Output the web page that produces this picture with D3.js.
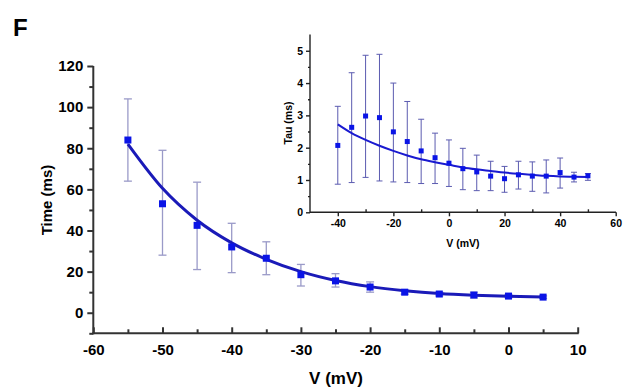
<!DOCTYPE html>
<html><head><meta charset="utf-8">
<script src="https://cdn.jsdelivr.net/npm/d3@7"></script>
<style>
body{margin:0;background:#fff;}
text{font-family:"Liberation Sans",Arial,sans-serif;font-weight:bold;fill:#000;}
</style></head>
<body><svg id="c" width="630" height="392"></svg>
<script>
// ---- Main panel data ----
const mainV = [-55,-50,-45,-40,-35,-30,-25,-20,-15,-10,-5,0,5];
const mainTime = [84,53,42.5,32,26.5,18.5,15.5,12.5,10,9.1,8.6,8.1,7.6];
const mainLow = [64,28,21,19.5,18.5,13,12.5,10,9,8.2,7.2,7.3,7.0];
const mainHigh = [104,79,63.5,43.5,34.5,23.5,19,15,11,10,10,8.9,8.2];
const mainFitV = [-55,-50,-45,-40,-35,-30,-25,-20,-15,-10,-5,0,5];
const mainFit = [82,60.5,45,34,26,20,15.7,12.7,10.7,9.3,8.5,8.0,7.7];
const mainXTicks = [-60,-50,-40,-30,-20,-10,0,10];
const mainYTicks = [0,20,40,60,80,100,120];

// ---- Inset data ----
const insetV = [-40,-35,-30,-25,-20,-15,-10,-5,0,5,10,15,20,25,30,35,40,45,50];
const insetTau = [2.07,2.63,2.98,2.93,2.49,2.19,1.9,1.69,1.52,1.35,1.25,1.12,1.04,1.16,1.12,1.12,1.23,1.09,1.13];
const insetLow = [0.87,0.92,1.08,0.97,0.94,0.92,0.89,0.89,0.8,0.7,0.67,0.67,0.62,0.72,0.65,0.6,0.75,0.94,0.99];
const insetHigh = [3.28,4.32,4.86,4.89,4.0,3.43,2.88,2.45,2.24,1.98,1.77,1.58,1.42,1.58,1.56,1.62,1.68,1.24,1.2];
const insetFitV = [-40,-35,-30,-25,-20,-15,-10,-5,0,5,10,15,20,25,30,35,40,45,50];
const insetFit = [2.72,2.45,2.24,2.06,1.9,1.76,1.64,1.55,1.47,1.39,1.33,1.28,1.23,1.19,1.16,1.13,1.11,1.1,1.09];
const insetXTicks = [-40,-20,0,20,40,60];
const insetYTicks = [0,1,2,3,4,5];

const fmt = d => String(d);
const svg = d3.select("#c");

svg.append("text").attr("x",13).attr("y",36).style("font-size","24px").text("F");

// ---- Main ----
const x = d3.scaleLinear().domain([-60,10]).range([93.3,577.7]);
const y = d3.scaleLinear().domain([-10,120]).range([333.3,66]);

const gx = svg.append("g").attr("transform","translate(0,333.3)")
  .call(d3.axisBottom(x).tickValues(d3.range(-55,10,10)).tickSize(-4).tickFormat(""));
const gx2 = svg.append("g").attr("transform","translate(0,333.3)")
  .call(d3.axisBottom(x).tickValues(mainXTicks).tickSize(-6).tickPadding(14).tickFormat(fmt));
[gx,gx2].forEach(g=>{g.selectAll("path,line").attr("stroke","#333").attr("stroke-width",2);g.select(".domain").remove();});
gx2.selectAll("text").style("font-size","15px").attr("dy","0.5em");
svg.append("line").attr("x1",x(-60)-1).attr("x2",x(10)+1).attr("y1",333.3).attr("y2",333.3).attr("stroke","#333").attr("stroke-width",2);

const gy = svg.append("g").attr("transform","translate(93.3,0)")
  .call(d3.axisLeft(y).tickValues(d3.range(10,120,20).concat([-10])).tickSize(4).tickFormat(""));
const gy2 = svg.append("g").attr("transform","translate(93.3,0)")
  .call(d3.axisLeft(y).tickValues(mainYTicks).tickSize(6).tickPadding(4).tickFormat(fmt));
[gy,gy2].forEach(g=>{g.selectAll("path,line").attr("stroke","#333").attr("stroke-width",2);g.select(".domain").remove();});
gy2.selectAll("text").style("font-size","15px");
svg.append("line").attr("x1",93.3).attr("x2",93.3).attr("y1",y(120)).attr("y2",334.3).attr("stroke","#333").attr("stroke-width",2);

svg.append("text").attr("transform","translate(52,200) rotate(-90)").attr("text-anchor","middle").style("font-size","15px").text("Time (ms)");
svg.append("text").attr("x",336).attr("y",384).attr("text-anchor","middle").style("font-size","17px").text("V (mV)");

// error bars
const eb = svg.append("g").attr("stroke","#9a9ac8").attr("stroke-width",1.3);
mainV.forEach((v,i)=>{
  eb.append("line").attr("x1",x(v)).attr("x2",x(v)).attr("y1",y(mainLow[i])).attr("y2",y(mainHigh[i]));
  [mainLow[i],mainHigh[i]].forEach(e=>eb.append("line").attr("x1",x(v)-4).attr("x2",x(v)+4).attr("y1",y(e)).attr("y2",y(e)));
});
svg.append("path").datum(mainFitV.map((v,i)=>[v,mainFit[i]]))
  .attr("d",d3.line().x(d=>x(d[0])).y(d=>y(d[1])).curve(d3.curveMonotoneX))
  .attr("fill","none").attr("stroke","#1a1ab8").attr("stroke-width",3);
svg.append("g").selectAll("rect").data(mainV).join("rect")
  .attr("x",v=>x(v)-3.5).attr("y",(v,i)=>y(mainTime[i])-3.5).attr("width",7).attr("height",7).attr("fill","#0a14e6");

// ---- Inset ----
const ix = d3.scaleLinear().domain([-50,60]).range([310,615.7]);
const iy = d3.scaleLinear().domain([0,5.5]).range([212.3,34.6]);

const igx = svg.append("g").attr("transform","translate(0,212.3)")
  .call(d3.axisBottom(ix).tickValues(d3.range(-30,60,20)).tickSize(-3).tickFormat(""));
const igx2 = svg.append("g").attr("transform","translate(0,212.3)")
  .call(d3.axisBottom(ix).tickValues(insetXTicks).tickSize(4).tickPadding(3).tickFormat(fmt));
const igy = svg.append("g").attr("transform","translate(310,0)")
  .call(d3.axisLeft(iy).tickValues(d3.range(0.5,5.5,1)).tickSize(2).tickFormat(""));
const igy2 = svg.append("g").attr("transform","translate(310,0)")
  .call(d3.axisLeft(iy).tickValues(insetYTicks).tickSize(4).tickPadding(3).tickFormat(fmt));
[igx,igx2,igy,igy2].forEach(g=>{g.selectAll("path,line").attr("stroke","#222").attr("stroke-width",1.4);g.select(".domain").remove();g.selectAll("text").style("font-size","10.5px");});
svg.append("line").attr("x1",310).attr("x2",616).attr("y1",212.3).attr("y2",212.3).attr("stroke","#222").attr("stroke-width",1.4);
svg.append("line").attr("x1",310).attr("x2",310).attr("y1",iy(5.5)).attr("y2",213).attr("stroke","#222").attr("stroke-width",1.4);

svg.append("text").attr("transform","translate(292,123) rotate(-90)").attr("text-anchor","middle").style("font-size","10.5px").text("Tau (ms)");
svg.append("text").attr("x",463).attr("y",247).attr("text-anchor","middle").style("font-size","10.5px").text("V (mV)");

const ieb = svg.append("g").attr("stroke","#5b5bb0").attr("stroke-width",1);
insetV.forEach((v,i)=>{
  ieb.append("line").attr("x1",ix(v)).attr("x2",ix(v)).attr("y1",iy(insetLow[i])).attr("y2",iy(insetHigh[i]));
  [insetLow[i],insetHigh[i]].forEach(e=>ieb.append("line").attr("x1",ix(v)-3).attr("x2",ix(v)+3).attr("y1",iy(e)).attr("y2",iy(e)));
});
svg.append("path").datum(insetFitV.map((v,i)=>[v,insetFit[i]]))
  .attr("d",d3.line().x(d=>ix(d[0])).y(d=>iy(d[1])).curve(d3.curveMonotoneX))
  .attr("fill","none").attr("stroke","#1a1ad0").attr("stroke-width",2);
svg.append("g").selectAll("rect").data(insetV).join("rect")
  .attr("x",v=>ix(v)-2.5).attr("y",(v,i)=>iy(insetTau[i])-2.5).attr("width",5).attr("height",5).attr("fill","#0a14e6");
</script></body></html>
